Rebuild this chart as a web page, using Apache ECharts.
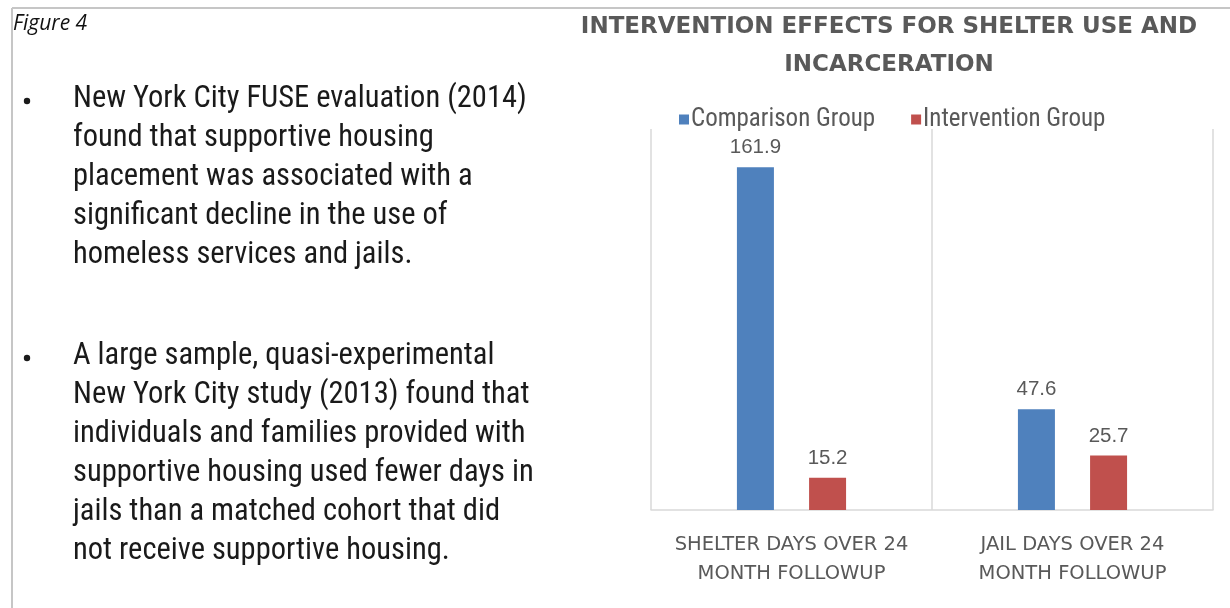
<!DOCTYPE html>
<html>
<head>
<meta charset="utf-8">
<script src="https://cdn.jsdelivr.net/npm/echarts@6/dist/echarts.min.js"></script>
<style>
  html, body { margin: 0; padding: 0; background: #fff; }
  #chart { width: 1230px; height: 608px; }
</style>
</head>
<body>
<div id="chart"></div>
<script>
// data
var categories = ['SHELTER DAYS OVER 24\nMONTH FOLLOWUP', 'JAIL DAYS OVER 24\nMONTH FOLLOWUP'];
var comparisonValues = [161.9, 47.6];
var interventionValues = [15.2, 25.7];
var seriesNames = ['Comparison Group', 'Intervention Group'];

var bullet1 = [
    'New York City FUSE evaluation (2014)',
    'found that supportive housing',
    'placement was associated with a',
    'significant decline in the use of',
    'homeless services and jails.'
];
var bullet2 = [
    'A large sample, quasi-experimental',
    'New York City study (2013) found that',
    'individuals and families provided with',
    'supportive housing used fewer days in',
    'jails than a matched cohort that did',
    'not receive supportive housing.'
];

var bodyFont = '"Liberation Sans Narrow", "Roboto Condensed", "Liberation Sans", sans-serif';
var capsFont = '"DejaVu Sans", sans-serif';

// bloc de texte avec puce
function bulletBlock(lines, top) {
    return [
        {type: 'circle', shape: {cx: 27, cy: top + 21, r: 3.2}, style: {fill: '#1a1a1a'}},
        {
            type: 'text', left: 73, top: top,
            style: {
                text: lines.join('\n'),
                font: '30.5px ' + bodyFont,
                lineHeight: 39,
                fill: '#1a1a1a'
            }
        }
    ];
}

var graphics = [
    {type: 'line', shape: {x1: 12, y1: 8, x2: 1230, y2: 8}, style: {stroke: '#c6c6c6', lineWidth: 2}},
    {type: 'line', shape: {x1: 12, y1: 8, x2: 12, y2: 608}, style: {stroke: '#c6c6c6', lineWidth: 2}},
    {
        type: 'text', left: 13, top: 14,
        style: {text: 'Figure 4', font: 'italic 21px "Open Sans", "DejaVu Sans", sans-serif', fill: '#111'}
    }
].concat(bulletBlock(bullet1, 80), bulletBlock(bullet2, 337));

var option = {
    animation: false,
    color: ['#4f81bd', '#c0504d'],
    title: {
        text: 'INTERVENTION EFFECTS FOR SHELTER USE AND\nINCARCERATION',
        left: 884,
        top: 3,
        textAlign: 'center',
        textStyle: {
            fontFamily: capsFont,
            fontWeight: 'bold',
            fontSize: 23,
            lineHeight: 38,
            color: '#595959'
        }
    },
    legend: {
        data: seriesNames,
        left: 674,
        top: 102,
        itemWidth: 10,
        itemHeight: 10,
        itemGap: 36,
        icon: 'rect',
        textStyle: {fontFamily: bodyFont, fontSize: 25, color: '#595959', padding: [0, 0, 0, -3]}
    },
    grid: {left: 651, right: 17, top: 129, bottom: 98},
    xAxis: {
        type: 'category',
        data: categories,
        axisLine: {lineStyle: {color: '#d9d9d9', width: 1.5}},
        axisTick: {show: false, interval: 0},
        splitLine: {show: true, interval: 0, lineStyle: {color: '#d9d9d9', width: 1.5}},
        axisLabel: {
            interval: 0,
            hideOverlap: false,
            margin: 20,
            fontFamily: capsFont,
            fontSize: 19.5,
            lineHeight: 29,
            color: '#595959'
        }
    },
    yAxis: {
        type: 'value',
        min: 0,
        max: 180,
        show: false,
        splitLine: {show: false}
    },
    series: [
        {
            name: seriesNames[0],
            type: 'bar',
            data: comparisonValues,
            barWidth: 37,
            barGap: '95%',
            label: {show: true, position: 'top', distance: 9, fontSize: 20.5, color: '#595959', fontFamily: '"Liberation Sans", sans-serif'}
        },
        {
            name: seriesNames[1],
            type: 'bar',
            data: interventionValues,
            barWidth: 37,
            label: {show: true, position: 'top', distance: 9, fontSize: 20.5, color: '#595959', fontFamily: '"Liberation Sans", sans-serif'}
        }
    ],
    graphic: graphics
};

var myChart = echarts.init(document.getElementById('chart'));
myChart.setOption(option);
</script>
</body>
</html>
